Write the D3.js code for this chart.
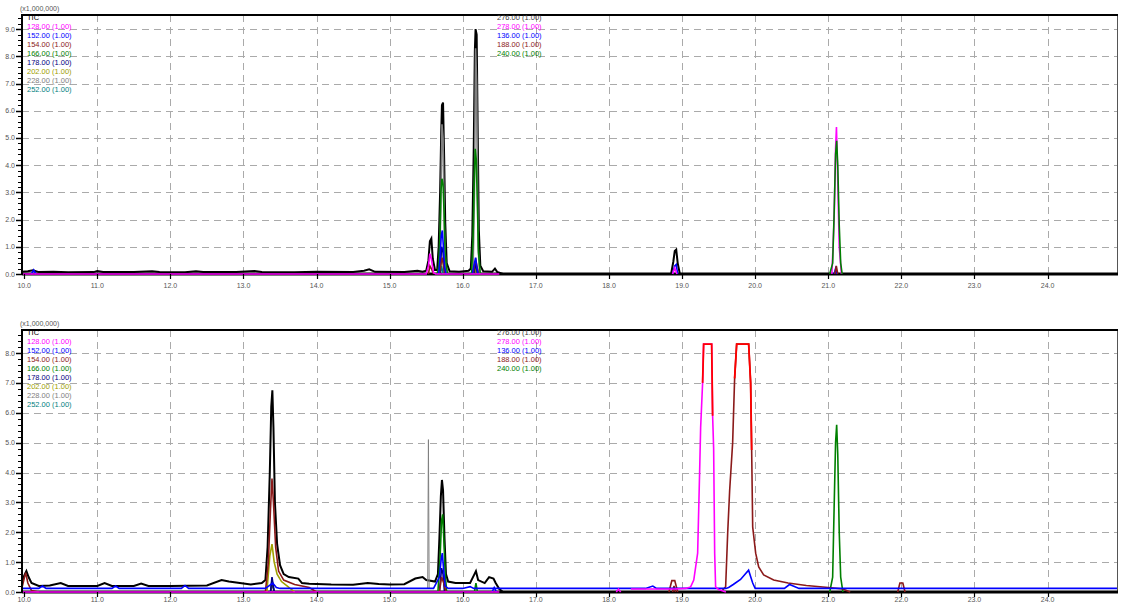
<!DOCTYPE html>
<html><head><meta charset="utf-8">
<script src="https://cdn.jsdelivr.net/npm/d3@7/dist/d3.min.js"></script>
<style>html,body{margin:0;padding:0;background:#fff;}svg{display:block;font-family:"Liberation Sans",Arial,sans-serif;}</style>
</head><body><svg id="chart" width="1121" height="603"></svg>
<script>
// ---------- tick labels ----------
const xTickValues = [10,11,12,13,14,15,16,17,18,19,20,21,22,23,24];
const xTickLabels = ["10.0","11.0","12.0","13.0","14.0","15.0","16.0","17.0","18.0","19.0","20.0","21.0","22.0","23.0","24.0"];
const yTickLabelsTop = ["0.0","1.0","2.0","3.0","4.0","5.0","6.0","7.0","8.0","9.0"];
const yTickLabelsBottom = ["0.0","1.0","2.0","3.0","4.0","5.0","6.0","7.0","8.0"];
const scaleLabel = "(x1,000,000)";

// ---------- legend ----------
const legendLeft = ["TIC","128.00 (1.00)","152.00 (1.00)","154.00 (1.00)","166.00 (1.00)","178.00 (1.00)","202.00 (1.00)","228.00 (1.00)","252.00 (1.00)"];
const legendMid = ["276.00 (1.00)","278.00 (1.00)","136.00 (1.00)","188.00 (1.00)","240.00 (1.00)"];
const seriesColors = ["#000000","#ff00ff","#0000ff","#8b1a1a","#008000","#000080","#a0a000","#808080","#008080","#404040","#ff00ff","#0000ff","#8b1a1a","#008000"];
const saturationColor = "#ff0000";

// ---------- top chromatogram (time [min], intensity x1,000,000) ----------
const topTIC = [[9.97,0.08],[10.05,0.1],[10.12,0.14],[10.2,0.07],[10.4,0.08],[10.6,0.06],[10.95,0.07],[11.0,0.11],[11.08,0.07],[11.5,0.07],[11.75,0.1],[11.85,0.07],[12.2,0.06],[12.35,0.1],[12.45,0.07],[12.9,0.07],[13.15,0.11],[13.25,0.07],[13.7,0.06],[14.0,0.08],[14.5,0.07],[14.65,0.12],[14.72,0.17],[14.8,0.08],[15.2,0.07],[15.38,0.12],[15.45,0.08],[15.5,0.12],[15.53,0.5],[15.55,1.2],[15.57,1.3],[15.59,0.55],[15.62,0.15],[15.65,0.15],[15.67,1.0],[15.69,3.0],[15.705,5.2],[15.715,6.2],[15.73,6.3],[15.745,4.3],[15.76,1.9],[15.78,0.4],[15.82,0.1],[15.95,0.08],[16.08,0.12],[16.11,0.2],[16.13,1.4],[16.15,4.6],[16.165,8.2],[16.175,9.0],[16.19,8.8],[16.205,5.0],[16.22,1.6],[16.24,0.3],[16.28,0.1],[16.4,0.08],[16.44,0.2],[16.47,0.08],[16.55,0],[18.85,0],[18.88,0.45],[18.9,0.85],[18.92,0.9],[18.94,0.4],[18.97,0],[24.95,0]];
const top_ion1 = [[9.97,0],[15.5,0],[15.53,0.3],[15.55,0.75],[15.57,0.55],[15.6,0.05],[15.63,0],[16.5,0],null,[18.87,0],[18.9,0.22],[18.93,0]];
const top_ion2 = [[10.1,0],[10.13,0.15],[10.16,0],null,[15.67,0],[15.69,0.6],[15.705,1.4],[15.72,1.6],[15.735,1.0],[15.75,0.3],[15.77,0],null,[16.13,0],[16.16,0.4],[16.175,0.6],[16.19,0.3],[16.21,0],null,[18.87,0],[18.9,0.3],[18.92,0.35],[18.94,0]];
const top_ion3 = [[15.53,0],[15.55,0.3],[15.57,0.2],[15.6,0],null,[15.68,0],[15.7,0.4],[15.72,0.6],[15.74,0.3],[15.76,0],null,[16.14,0],[16.165,0.4],[16.18,0.5],[16.2,0.2],[16.22,0]];
const top_ion4 = [[15.65,0],[15.67,0.3],[15.69,1.6],[15.70,3.0],[15.715,3.5],[15.73,3.3],[15.745,2.2],[15.76,0.7],[15.79,0],null,[16.12,0],[16.14,1.2],[16.155,3.2],[16.17,4.6],[16.185,4.2],[16.2,2.5],[16.215,0.8],[16.24,0]];
const top_ion5 = [[15.69,0],[15.71,1.0],[15.73,0.8],[15.75,0],null,[16.15,0],[16.18,0.4],[16.2,0]];
const top_ion6 = [[15.68,0],[15.71,0.5],[15.73,0.4],[15.75,0],null,[16.15,0],[16.17,0.3],[16.19,0]];
const top_ion7 = [[15.68,0],[15.70,2.5],[15.715,5.5],[15.73,5.0],[15.75,1.5],[15.77,0],null,[16.14,0],[16.16,3.0],[16.175,8.3],[16.19,7.0],[16.21,1.0],[16.23,0]];
const top_ion8 = [[15.69,0],[15.71,0.3],[15.73,0]];
const top_ion9 = [[16.15,0],[16.17,0.2],[16.19,0]];
const top_ion10 = [[21.05,0],[21.08,2.0],[21.1,4.6],[21.112,5.4],[21.125,4.0],[21.15,1.0],[21.18,0]];
const top_ion11 = [[21.08,0],[21.1,0.2],[21.12,0]];
const top_ion12 = [[21.09,0],[21.11,0.3],[21.13,0]];
const top_ion13 = [[21.02,0],[21.06,0.4],[21.08,2.2],[21.10,4.4],[21.115,4.9],[21.13,4.0],[21.15,1.8],[21.17,0.4],[21.19,0]];

// ---------- bottom chromatogram ----------
const botTIC = [[9.97,0.3],[10.0,0.55],[10.03,0.7],[10.06,0.5],[10.1,0.3],[10.2,0.2],[10.35,0.22],[10.5,0.3],[10.6,0.2],[11.0,0.2],[11.1,0.3],[11.2,0.2],[11.5,0.2],[11.6,0.28],[11.7,0.2],[12.0,0.2],[12.5,0.22],[12.7,0.4],[12.8,0.35],[12.95,0.3],[13.1,0.25],[13.25,0.3],[13.3,0.4],[13.33,1.5],[13.36,4.0],[13.38,6.2],[13.395,6.75],[13.41,5.5],[13.43,3.0],[13.46,1.6],[13.5,0.9],[13.55,0.6],[13.62,0.5],[13.75,0.45],[13.8,0.3],[13.9,0.28],[14.2,0.25],[14.5,0.24],[14.7,0.3],[14.85,0.27],[15.0,0.25],[15.2,0.26],[15.35,0.45],[15.45,0.5],[15.5,0.4],[15.62,0.35],[15.66,0.6],[15.68,1.8],[15.70,3.2],[15.715,3.75],[15.73,3.4],[15.75,1.8],[15.77,0.6],[15.8,0.35],[15.9,0.3],[16.0,0.3],[16.1,0.3],[16.15,0.55],[16.18,0.7],[16.21,0.4],[16.3,0.3],[16.36,0.5],[16.42,0.45],[16.45,0.3],[16.5,0.1],[16.55,0],[24.95,0]];
const bot_ion1 = [[9.97,0],[16.5,0],null,[18.3,0.1],[18.9,0.1],[19.05,0.12],[19.117,0.17],[19.16,0.4],[19.213,1.3],[19.24,4.0],[19.254,5.5],[19.281,7.0],[19.295,8.3],[19.405,8.3],[19.418,5.9],[19.432,4.8],[19.446,1.3],[19.459,0.17],[19.5,0.08],[19.6,0]];
const bot_ion2 = [[9.97,0.12],[10.2,0.12],[10.25,0.2],[10.3,0.12],[11.2,0.12],[11.25,0.2],[11.3,0.12],[12.15,0.12],[12.2,0.22],[12.25,0.12],[13.3,0.12],[13.4,0.3],[13.45,0.15],[13.5,0.12],[15.6,0.12],[15.68,0.5],[15.705,1.1],[15.72,1.3],[15.74,0.7],[15.76,0.2],[15.8,0.12],[16.0,0.12],[16.1,0.18],[16.15,0.12],[18.5,0.12],[18.6,0.2],[18.65,0.12],[19.6,0.12],[19.637,0.15],[19.7,0.25],[19.8,0.42],[19.91,0.73],[19.966,0.3],[20.0,0.12],[20.4,0.12],[20.47,0.25],[20.52,0.2],[20.6,0.12],[24.95,0.12]];
const bot_ion3 = [[9.97,0.15],[10.02,0.65],[10.05,0.3],[10.1,0.05],[10.2,0],null,[13.3,0],[13.34,1.0],[13.37,2.8],[13.39,3.8],[13.41,3.0],[13.44,1.5],[13.48,0.7],[13.55,0.4],[13.7,0.25],[13.9,0.15],[14.0,0],null,[15.68,0],[15.71,0.5],[15.74,0.3],[15.77,0],null,[18.82,0],[18.86,0.38],[18.9,0.38],[18.94,0],null,[19.55,0.05],[19.596,0.17],[19.624,1.97],[19.651,3.4],[19.692,5.0],[19.719,7.15],[19.747,8.3],[19.911,8.3],[19.938,7.0],[19.952,4.75],[19.966,2.18],[20.007,1.3],[20.048,0.84],[20.116,0.57],[20.253,0.4],[20.45,0.3],[20.7,0.22],[21.0,0.15],[21.2,0.1],[21.3,0],null,[21.95,0],[21.98,0.3],[22.02,0.3],[22.05,0]];
const bot_ion4 = [[15.66,0],[15.69,1.2],[15.71,2.4],[15.725,2.6],[15.74,1.8],[15.76,0.6],[15.78,0],null,[16.16,0],[16.18,0.3],[16.2,0]];
const bot_ion5 = [[13.37,0],[13.39,0.5],[13.42,0],null,[15.68,0],[15.71,0.8],[15.73,0.6],[15.75,0]];
const bot_ion6 = [[13.32,0],[13.36,1.2],[13.39,1.6],[13.42,1.0],[13.46,0.6],[13.52,0.35],[13.6,0.2],[13.7,0]];
const bot_ion7 = [[15.52,0.1],[15.53,5.1],[15.54,0.1]];
const bot_ion8 = [[13.37,0],[13.39,0.4],[13.42,0]];
const bot_ion9 = [[13.37,0],[13.395,0.3],[13.42,0]];
const bot_ion10 = [[18.1,0],[18.13,0.1],[18.16,0]];
const bot_ion11 = [[16.4,0],[16.43,0.15],[16.46,0]];
const bot_ion12 = [[18.87,0],[18.89,0.2],[18.91,0]];
const bot_ion13 = [[21.02,0],[21.06,0.5],[21.08,2.8],[21.10,5.0],[21.115,5.6],[21.13,4.6],[21.15,2.0],[21.17,0.5],[21.2,0]];

// saturated (over-range) intervals [series index, start, end] in minutes
const topSaturated = [];
const botSaturated = [[1,19.281,19.418],[3,19.719,19.952]];

// ---------- drawing ----------
const svg = d3.select("#chart");
const X0 = 22, X1 = 1117;

function drawPanel(cfg) {
  const g = svg.append("g");
  const x = d3.scaleLinear().domain([9.97, 24.95]).range([X0, X1]);
  const y = d3.scaleLinear().domain([0, cfg.yMax]).range([cfg.yBottom, cfg.yTop]);
  const nTicks = cfg.yLabels.length;
  const clipId = "clip" + cfg.id;
  svg.append("clipPath").attr("id", clipId).append("rect")
    .attr("x", X0).attr("y", cfg.yTop).attr("width", X1 - X0).attr("height", cfg.yBottom - cfg.yTop + 3);

  // grid
  const grid = g.append("g").attr("stroke", "#aaaaaa").attr("stroke-width", 1).attr("stroke-dasharray", "7,5");
  xTickValues.slice(1).forEach(v => {
    grid.append("line").attr("x1", Math.round(x(v)) + 0.5).attr("x2", Math.round(x(v)) + 0.5)
      .attr("y1", cfg.yTop).attr("y2", cfg.yBottom);
  });
  d3.range(1, nTicks).forEach(v => {
    grid.append("line").attr("x1", X0).attr("x2", X1)
      .attr("y1", Math.round(y(v)) + 0.5).attr("y2", Math.round(y(v)) + 0.5);
  });

  // frame
  g.append("line").attr("x1", X1 + 0.5).attr("x2", X1 + 0.5).attr("y1", cfg.yTop).attr("y2", cfg.yBottom).attr("stroke", "#555").attr("stroke-width", 1);
  g.append("line").attr("x1", X0).attr("x2", X1 + 1).attr("y1", cfg.yTop).attr("y2", cfg.yTop).attr("stroke", "#000").attr("stroke-width", 2);
  g.append("line").attr("x1", X0).attr("x2", X1 + 1).attr("y1", cfg.yBottom).attr("y2", cfg.yBottom).attr("stroke", "#000").attr("stroke-width", 3);

  // series
  const line = d3.line().defined(d => d !== null).x(d => x(d[0])).y(d => y(d[1]));
  const sg = g.append("g").attr("clip-path", `url(#${clipId})`);
  cfg.order.forEach(i => {
    sg.append("path").datum(cfg.series[i]).attr("fill", "none")
      .attr("stroke", seriesColors[i]).attr("stroke-width", i === 0 ? 2 : (cfg.thin && cfg.thin.includes(i) ? 1 : 1.6))
      .attr("stroke-linejoin", "miter").attr("d", line);
  });
  cfg.saturated.forEach(([i, a, b]) => {
    const pts = cfg.series[i].filter(d => d !== null && d[0] >= a - 1e-9 && d[0] <= b + 1e-9);
    sg.append("path").datum(pts).attr("fill", "none").attr("stroke", saturationColor)
      .attr("stroke-width", 1.8).attr("d", line);
  });

  // y axis
  g.append("line").attr("x1", X0).attr("x2", X0).attr("y1", cfg.yTop - 1).attr("y2", cfg.yBottom + 1).attr("stroke", "#000").attr("stroke-width", 2);
  const yMinor = d3.range(0, cfg.yMax, 0.2);
  g.append("g").selectAll("line").data(yMinor).join("line")
    .attr("x1", X0 - 4).attr("x2", X0).attr("y1", d => Math.round(y(d)) + 0.5).attr("y2", d => Math.round(y(d)) + 0.5)
    .attr("stroke", "#000").attr("stroke-width", 1);
  g.append("g").selectAll("line").data(cfg.yLabels).join("line")
    .attr("x1", X0 - 6).attr("x2", X0).attr("y1", (d, i) => Math.round(y(i)) + 0.5).attr("y2", (d, i) => Math.round(y(i)) + 0.5)
    .attr("stroke", "#000").attr("stroke-width", 1.5);
  g.append("g").selectAll("text").data(cfg.yLabels).join("text")
    .attr("x", 15).attr("y", (d, i) => y(i) + 2.5).attr("text-anchor", "end")
    .attr("font-size", 7).attr("fill", "#555").text(d => d);

  // x axis ticks + labels
  g.append("g").selectAll("line").data(xTickValues).join("line")
    .attr("x1", d => Math.round(x(d)) + 0.5).attr("x2", d => Math.round(x(d)) + 0.5)
    .attr("y1", cfg.yBottom).attr("y2", cfg.yBottom + 5).attr("stroke", "#000").attr("stroke-width", 1.2);
  g.append("g").selectAll("text").data(xTickLabels).join("text")
    .attr("x", (d, i) => x(xTickValues[i])).attr("y", cfg.yBottom + cfg.labelGap).attr("text-anchor", "middle")
    .attr("font-size", 7).attr("fill", "#555").text(d => d);

  // scale label
  g.append("text").attr("x", 20).attr("y", cfg.yTop - 4).attr("font-size", 7).attr("fill", "#555").text(scaleLabel);

  // legends
  const lg = g.append("g").attr("font-size", 7.5);
  legendLeft.forEach((t, i) => {
    lg.append("text").attr("x", 27).attr("y", cfg.yTop + 4.5 + i * 9).attr("fill", seriesColors[i]).text(t);
  });
  legendMid.forEach((t, i) => {
    lg.append("text").attr("x", 497).attr("y", cfg.yTop + 4.5 + i * 9).attr("fill", seriesColors[9 + i]).text(t);
  });
}

drawPanel({
  id: "top", yTop: 15, yBottom: 274, yMax: 9.52, yLabels: yTickLabelsTop, labelGap: 14,
  series: [topTIC, top_ion1, top_ion2, top_ion3, top_ion4, top_ion5, top_ion6, top_ion7, top_ion8, top_ion9, top_ion10, top_ion11, top_ion12, top_ion13],
  order: [0, 7, 8, 9, 6, 5, 10, 13, 4, 3, 2, 11, 12, 1],
  saturated: topSaturated
});
drawPanel({
  id: "bot", yTop: 330, yBottom: 592, yMax: 8.77, yLabels: yTickLabelsBottom, labelGap: 9.5,
  series: [botTIC, bot_ion1, bot_ion2, bot_ion3, bot_ion4, bot_ion5, bot_ion6, bot_ion7, bot_ion8, bot_ion9, bot_ion10, bot_ion11, bot_ion12, bot_ion13],
  order: [0, 7, 8, 9, 6, 5, 4, 13, 3, 12, 2, 11, 10, 1],
  thin: [7],
  saturated: botSaturated
});
</script></body></html>
